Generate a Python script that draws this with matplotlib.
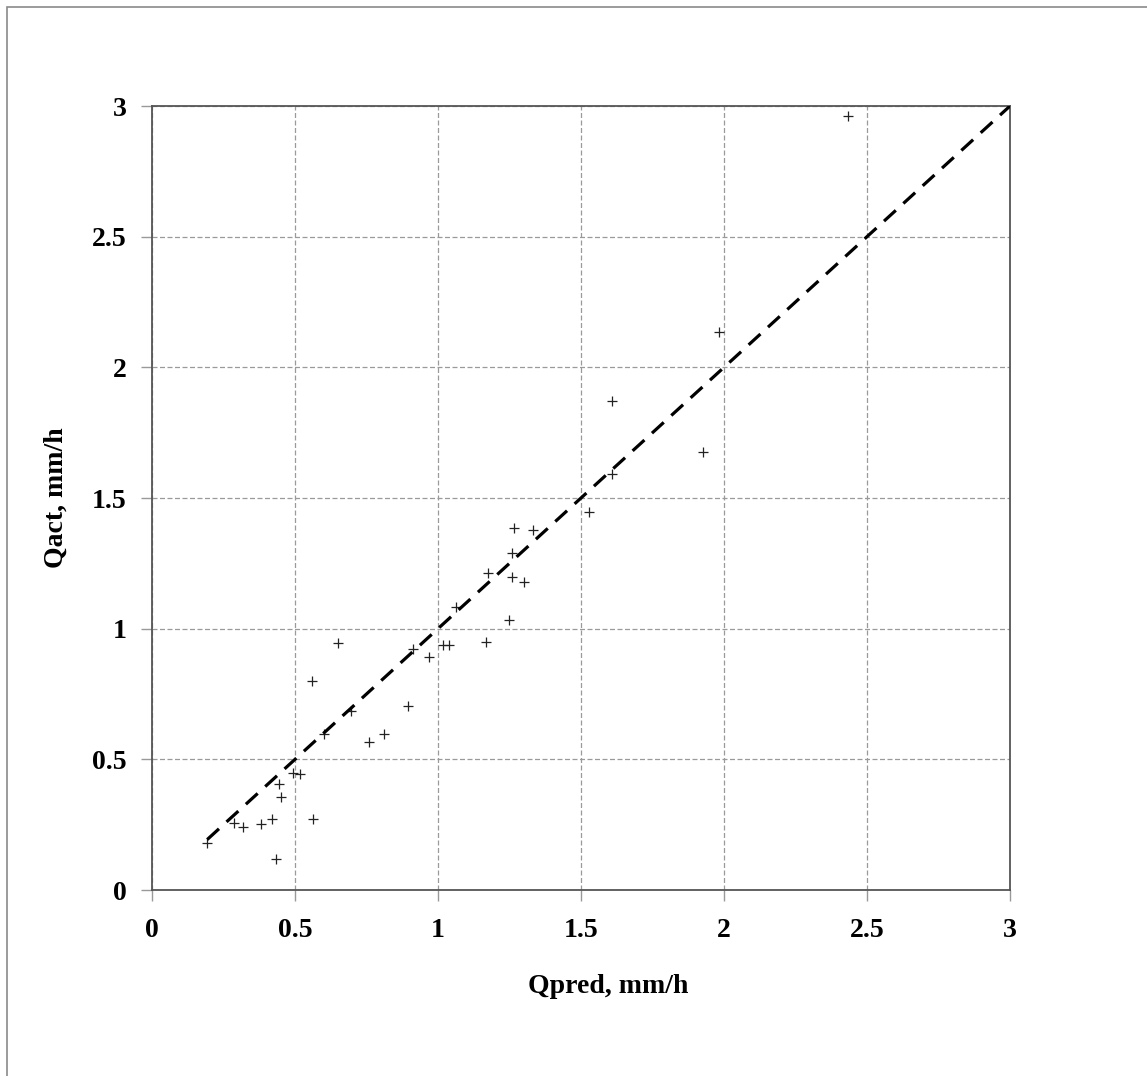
import numpy as np
import matplotlib.pyplot as plt
from matplotlib.patches import Rectangle

q_pred = [0.193, 0.287, 0.317, 0.381, 0.421, 0.432, 0.445, 0.451, 0.493, 0.519,
          0.564, 0.561, 0.652, 0.603, 0.695, 0.758, 0.812, 0.896, 0.911, 0.970,
          1.019, 1.037, 1.063, 1.266, 1.331, 1.260, 1.176, 1.260, 1.302, 1.249,
          1.169, 1.529, 1.981, 1.607, 1.925, 1.607, 2.435]
q_act = [0.181, 0.258, 0.241, 0.254, 0.273, 0.120, 0.406, 0.357, 0.446, 0.444,
         0.272, 0.800, 0.944, 0.597, 0.685, 0.568, 0.598, 0.705, 0.921, 0.890,
         0.938, 0.936, 1.083, 1.386, 1.379, 1.291, 1.213, 1.198, 1.179, 1.033,
         0.950, 1.446, 2.134, 1.871, 1.676, 1.592, 2.963]

ticks = [0, 0.5, 1, 1.5, 2, 2.5, 3]
tick_labels = ['0', '0.5', '1', '1.5', '2', '2.5', '3']

plt.rcParams['font.family'] = ['Liberation Serif', 'DejaVu Serif']

fig = plt.figure(figsize=(11.47, 10.76), dpi=100)
# thin frame round the picture (only left and top are visible)
fig.patches.append(Rectangle((7/1147, -0.1), 1.2, (1076-7)/1076 + 0.1,
                             transform=fig.transFigure, fill=False,
                             edgecolor='#8a8a8a', linewidth=1.2))

ax = fig.add_axes([152/1147, 186/1076, 858/1147, 784/1076])

ax.scatter(q_pred, q_act, marker='+', s=60, color='#222222', linewidths=0.9, zorder=3)

# 1:1 line
x0 = min(q_pred)
ax.plot([x0, 3], [x0, 3], color='black', linestyle=(0, (5, 3.2)), linewidth=2.3, zorder=4)

ax.set_xlim(0, 3)
ax.set_ylim(0, 3)
ax.set_xticks(ticks)
ax.set_yticks(ticks)
ax.set_xticklabels(tick_labels, fontsize=20, fontweight='bold')
ax.set_yticklabels(tick_labels, fontsize=20, fontweight='bold')
ax.tick_params(direction='out', length=8, width=1, color='#999999')
ax.tick_params(axis='x', pad=12)
ax.tick_params(axis='y', pad=10)

ax.grid(True, color='#9a9a9a', linestyle=(0, (4, 2)), linewidth=0.9)
for s in ax.spines.values():
    s.set_color('#555555')
    s.set_linewidth(1.3)

ax.set_xlabel('Qpred, mm/h', fontsize=20, fontweight='bold')
ax.set_ylabel('Qact, mm/h', fontsize=20, fontweight='bold')
ax.xaxis.set_label_coords(0.532, -0.107)
ax.yaxis.set_label_coords(-0.097, 0.5)

plt.savefig('out.png', dpi=100)
